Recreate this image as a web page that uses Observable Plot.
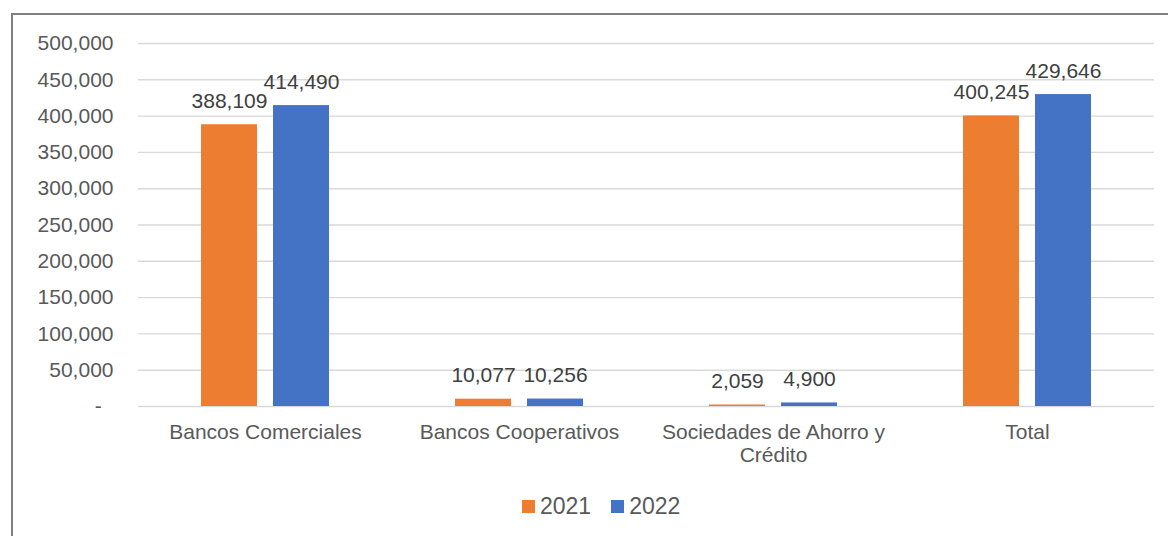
<!DOCTYPE html>
<html>
<head>
<meta charset="utf-8">
<script src="https://cdn.jsdelivr.net/npm/d3@7"></script>
<script src="https://cdn.jsdelivr.net/npm/@observablehq/plot@0.6"></script>
<style>
  html, body { margin: 0; padding: 0; background: #fff; overflow: hidden; width: 1168px; height: 536px; }
  #frame { position: absolute; left: 11px; top: 13px; width: 1200px; height: 600px;
           border-left: 2px solid #7f7f7f; border-top: 2px solid #7f7f7f; }
  #chart { position: absolute; left: 0; top: 0; }
  #legend { position: absolute; left: 522px; top: 493px; display: flex; align-items: center;
            font-family: "Liberation Sans", Arial, sans-serif; font-size: 23px; color: #595959; }
  .sw { width: 13px; height: 13px; display: inline-block; margin-right: 5px; }
  .item { display: flex; align-items: center; margin-right: 20px; }
</style>
</head>
<body>
<div id="frame"></div>
<div id="chart"></div>
<div id="legend"></div>
<script>
const categories = ["Bancos Comerciales", "Bancos Cooperativos", "Sociedades de Ahorro y\nCrédito", "Total"];
const years = ["2021", "2022"];
const values2021 = [388109, 10077, 2059, 400245];
const values2022 = [414490, 10256, 4900, 429646];
const yTicks = [0, 50000, 100000, 150000, 200000, 250000, 300000, 350000, 400000, 450000, 500000];
const colors = ["#ED7D31", "#4472C4"];

const data = [];
categories.forEach((c, i) => {
  data.push({category: c, year: years[0], value: values2021[i]});
  data.push({category: c, year: years[1], value: values2022[i]});
});

const fmt = d3.format(",");

const chart = Plot.plot({
  width: 1168,
  height: 480,
  marginLeft: 137,
  marginRight: 14,
  marginTop: 43,
  marginBottom: 74,
  style: {fontFamily: "Liberation Sans, Arial, sans-serif", fontSize: "21px", color: "#595959", background: "transparent", overflow: "visible"},
  fx: {domain: categories, padding: 0, label: null},
  x: {domain: years, paddingInner: 0.22, paddingOuter: 0.85, axis: null},
  y: {domain: [0, 500000]},
  color: {domain: years, range: colors},
  marks: [
    Plot.gridY(yTicks, {stroke: "#d9d9d9", strokeOpacity: 1, strokeWidth: 1.4}),
    Plot.barY(data, {fx: "category", x: "year", y: "value", fill: "year"}),
    Plot.text(data, {fx: "category", x: "year", y: "value", text: d => fmt(d.value),
      lineAnchor: "bottom", dy: -17, fill: "#404040", fontSize: 21}),
    Plot.axisY({ticks: yTicks, tickSize: 0, tickPadding: 25, label: null, fill: "#595959", fontSize: 21,
      tickFormat: d => d === 0 ? "-\u00a0\u00a0" : fmt(d)}),
    Plot.axisFx({anchor: "bottom", tickSize: 0, tickPadding: 16, label: null, lineHeight: 1.1, fill: "#595959", fontSize: 21})
  ]
});
document.getElementById("chart").appendChild(chart);

const legend = document.getElementById("legend");
years.forEach((y, i) => {
  const item = document.createElement("span");
  item.className = "item";
  const sw = document.createElement("span");
  sw.className = "sw";
  sw.style.background = colors[i];
  item.appendChild(sw);
  item.appendChild(document.createTextNode(y));
  legend.appendChild(item);
});
</script>
</body>
</html>
